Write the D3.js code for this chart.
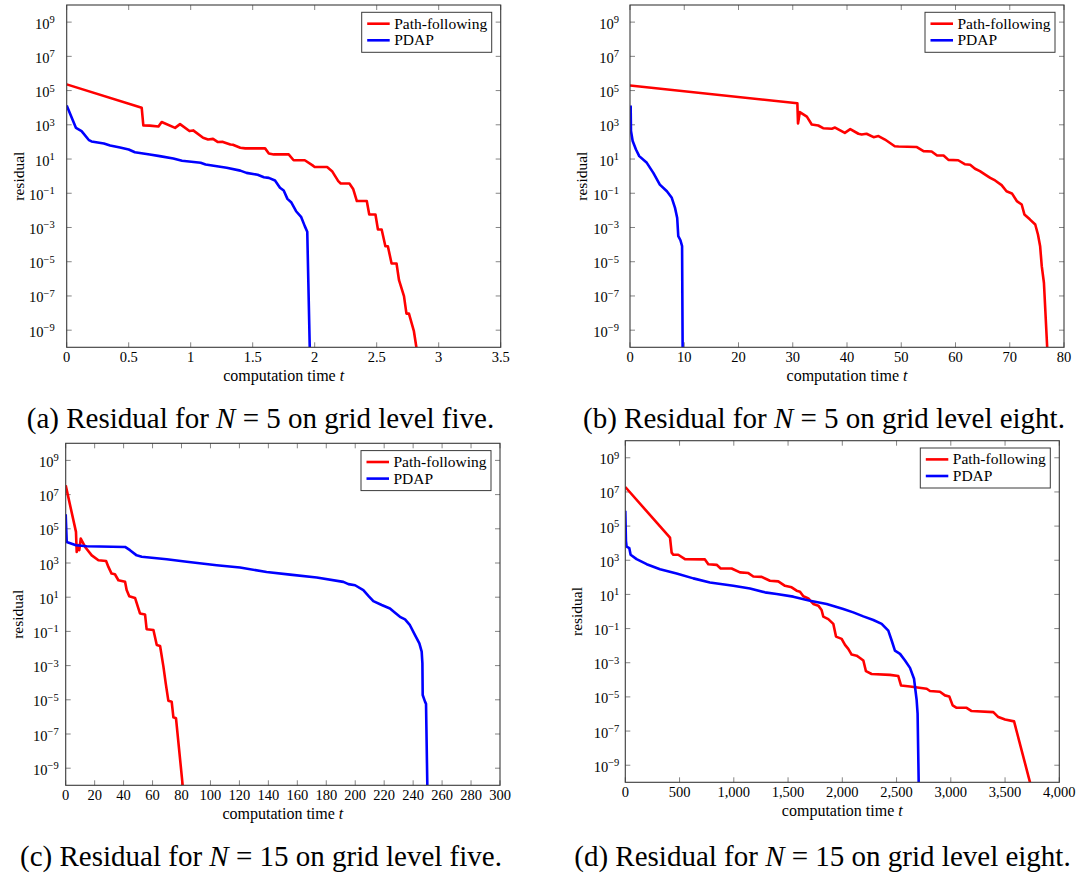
<!DOCTYPE html>
<html>
<head>
<meta charset="utf-8">
<script src="https://cdn.jsdelivr.net/npm/d3@7"></script>
<style>
  html, body { margin: 0; padding: 0; background: #fff; }
  svg { display: block; }
  text { font-family: "Liberation Serif", "Times New Roman", serif; fill: #000; }
</style>
</head>
<body>
<svg id="fig" width="1078" height="879"></svg>
<script>
// ---------- residual histories (computation time t, residual) ----------

// (a) N = 5, grid level five
const timeA_PF = [0, 0.605, 0.618, 0.67, 0.74, 0.766, 0.874, 0.914, 0.99, 1.02, 1.10, 1.14, 1.18, 1.22, 1.26, 1.32, 1.34, 1.40, 1.44, 1.60, 1.63, 1.67, 1.79, 1.83, 1.92, 1.98, 2.00, 2.10, 2.14, 2.19, 2.21, 2.28, 2.31, 2.34, 2.42, 2.44, 2.49, 2.51, 2.54, 2.57, 2.59, 2.62, 2.66, 2.68, 2.72, 2.74, 2.76, 2.80, 2.82];
const resA_PF  = [2.3e5, 9.8e3, 9.1e2, 9.0e2, 7.9e2, 1.45e3, 6.6e2, 1.1e3, 4.3e2, 4.7e2, 1.74e2, 1.38e2, 1.5e2, 98, 100, 71, 68, 46, 42, 42, 21, 18.6, 18.6, 8.5, 8.5, 4.4, 3.4, 3.4, 1.95, 0.51, 0.37, 0.37, 0.18, 0.035, 0.035, 5.8e-3, 5.8e-3, 7.6e-4, 7.6e-4, 8.1e-5, 8.1e-5, 7.9e-6, 7.9e-6, 8.3e-7, 9.8e-8, 9.3e-9, 9.3e-9, 8.7e-10, 1e-10];
const timeA_PDAP = [0, 0.075, 0.12, 0.18, 0.20, 0.30, 0.35, 0.43, 0.50, 0.55, 0.67, 0.75, 0.86, 0.93, 1.08, 1.12, 1.29, 1.40, 1.45, 1.54, 1.59, 1.63, 1.68, 1.72, 1.75, 1.78, 1.81, 1.85, 1.89, 1.92, 1.94, 1.96];
const resA_PDAP  = [1.35e4, 6.6e2, 4.3e2, 126, 107, 81, 62, 47, 36, 25, 18.6, 14.8, 10.7, 7.9, 6.0, 4.8, 3.1, 2.1, 1.55, 1.2, 0.87, 0.79, 0.56, 0.21, 0.145, 0.047, 0.030, 8.9e-3, 4.2e-3, 1.2e-3, 5.6e-4, 1e-10];

// (b) N = 5, grid level eight
const timeB_PF = [0, 30.85, 30.97, 31.3, 32.6, 33.5, 34.7, 35.6, 37.2, 37.8, 39.6, 40.6, 42.1, 42.7, 43.6, 44.9, 45.8, 47.0, 48.8, 49.5, 52.8, 54.1, 55.6, 56.6, 57.8, 58.7, 60.5, 61.7, 62.7, 63.6, 64.5, 65.4, 66.4, 67.3, 68.5, 69.4, 70.4, 71.3, 72.2, 72.7, 73.7, 74.7, 75.2, 75.6, 75.9, 76.3, 76.9];
const resB_PF  = [2.0e5, 1.8e4, 1.2e3, 5.5e3, 3.0e3, 1.05e3, 9.1e2, 6.3e2, 5.9e2, 6.9e2, 3.4e2, 5.6e2, 3.0e2, 2.7e2, 3.0e2, 1.9e2, 2.2e2, 1.38e2, 56, 54, 51, 29, 27.5, 16.2, 16.2, 8.9, 8.5, 5.0, 4.6, 2.7, 1.95, 1.26, 0.79, 0.56, 0.30, 0.13, 0.098, 0.035, 0.022, 5.8e-3, 3.0e-3, 1.5e-3, 3.9e-4, 8.1e-5, 5.5e-6, 5.9e-7, 1e-10];
const timeB_PDAP = [0.12, 0.18, 0.49, 1.1, 1.7, 3.1, 4.3, 5.5, 6.8, 7.7, 8.3, 8.7, 8.9, 9.3, 9.6, 9.7];
const resB_PDAP  = [1.35e4, 4.3e2, 112, 36, 14.8, 6.0, 1.55, 0.32, 0.13, 0.054, 0.014, 3.6e-3, 3.1e-4, 1.8e-4, 8.1e-5, 1e-10];

// (c) N = 15, grid level five
const timeC_PF = [0, 7.1, 7.6, 8.7, 9.4, 10.4, 13.4, 18.0, 22.6, 27.9, 29.5, 31.7, 34.0, 36.4, 41.0, 42.1, 43.9, 47.9, 51.3, 54.8, 55.9, 60.6, 62.9, 65.2, 67.5, 69.1, 70.9, 73.2, 74.4, 76.2, 80.8];
const resC_PF  = [3.5e7, 6.6e4, 4.5e3, 1.1e4, 5.6e3, 2.7e4, 8.7e3, 2.8e3, 1.45e3, 1.3e3, 5.9e2, 2.4e2, 2.2e2, 98, 79, 26, 11.5, 9.1, 1.12, 0.98, 0.135, 0.12, 0.016, 0.014, 8.7e-4, 9.1e-5, 8.9e-6, 7.8e-6, 9.5e-7, 8.3e-7, 1e-10];
const timeC_PDAP = [0, 0.7, 7.1, 14.5, 41.0, 44.4, 49.0, 52.5, 69.8, 83.6, 104.3, 120.4, 138.8, 155, 173.4, 191.8, 195.3, 199.9, 205.6, 209.1, 212.5, 218.3, 224, 227.5, 230.9, 234.4, 237.8, 241.3, 244.3, 245.9, 246.4, 246.6, 248.2, 248.9, 249.8];
const resC_PDAP  = [7.1e5, 1.7e4, 1.1e4, 9.5e3, 8.7e3, 5.6e3, 2.8e3, 2.3e3, 1.66e3, 1.17e3, 7.4e2, 5.4e2, 3.0e2, 2.1e2, 1.41e2, 79, 58, 50, 26, 12, 5.9, 3.5, 2.2, 1.23, 0.71, 0.50, 0.23, 0.060, 0.020, 6.5e-3, 1.35e-3, 1.9e-5, 7.8e-6, 5.8e-6, 1e-10];

// (d) N = 15, grid level eight
const timeD_PF = [0, 412, 427, 442, 488, 550, 734, 765, 842, 879, 980, 1057, 1134, 1180, 1257, 1333, 1410, 1472, 1533, 1579, 1610, 1641, 1687, 1733, 1779, 1809, 1825, 1871, 1917, 1942, 1994, 2025, 2055, 2086, 2132, 2163, 2194, 2218, 2270, 2439, 2516, 2541, 2624, 2778, 2808, 2900, 2946, 2986, 3017, 3054, 3146, 3192, 3392, 3438, 3500, 3583, 3730];
const resD_PF  = [1.95e7, 2.1e4, 2.8e3, 2.1e3, 2.1e3, 1.17e3, 1.12e3, 5.9e2, 5.4e2, 3.3e2, 3.3e2, 1.95e2, 1.78e2, 1.12e2, 1.07e2, 63, 58, 32, 26, 16.6, 14.5, 7.8, 5.9, 2.75, 2.2, 1.23, 0.50, 0.36, 0.19, 0.034, 0.025, 0.011, 6.5e-3, 3.0e-3, 2.6e-3, 1.9e-3, 1.35e-3, 3.2e-4, 2.2e-4, 1.95e-4, 1.66e-4, 4.7e-5, 4.1e-5, 3.0e-5, 2.2e-5, 2.0e-5, 1.23e-5, 1.07e-5, 3.2e-6, 2.3e-6, 2.3e-6, 1.48e-6, 1.29e-6, 6.6e-7, 4.7e-7, 3.7e-7, 1e-10];
const timeD_PDAP = [0, 6, 12, 37, 49, 104, 197, 320, 473, 627, 780, 995, 1149, 1287, 1395, 1548, 1702, 1856, 2009, 2101, 2194, 2286, 2363, 2424, 2455, 2485, 2532, 2578, 2624, 2661, 2685, 2694, 2704];
const resD_PDAP  = [7.8e5, 1.38e4, 6.2e3, 5.1e3, 2.1e3, 1.17e3, 5.9e2, 3.0e2, 1.7e2, 87, 50, 32, 22, 13.2, 10.5, 7.4, 4.3, 2.75, 1.41, 0.89, 0.52, 0.32, 0.19, 0.076, 0.020, 5.1e-3, 3.3e-3, 1.35e-3, 5.0e-4, 1.15e-4, 6.8e-6, 1.05e-6, 1e-10];

// ---------- axes ----------
const xTicksA = [0, 0.5, 1, 1.5, 2, 2.5, 3, 3.5];
const xTicksB = [0, 10, 20, 30, 40, 50, 60, 70, 80];
const xTicksC = [0, 20, 40, 60, 80, 100, 120, 140, 160, 180, 200, 220, 240, 260, 280, 300];
const xTicksD = [0, 500, 1000, 1500, 2000, 2500, 3000, 3500, 4000];
const yTickExponents = [-9, -7, -5, -3, -1, 1, 3, 5, 7, 9];
const yDomain = [1e-10, 1e10];

const seriesNames = ["Path-following", "PDAP"];
const seriesColors = ["#ff0000", "#0000ff"];

const captionLabels = ["(a)", "(b)", "(c)", "(d)"];
const captionN = ["5", "5", "15", "15"];
const captionLevel = ["five", "eight", "five", "eight"];

// ---------- layout of the four panels ----------
const panels = [
  { box: [66.7, 5, 500.7, 347.3], xTicks: xTicksA, fmt: d => String(d),
    runs: [[timeA_PF, resA_PF], [timeA_PDAP, resA_PDAP]], capX: 260.5, capY: 428, yLabX: 18.5, yTickGap: 12 },
  { box: [630, 5, 1064, 347.3], xTicks: xTicksB, fmt: d => String(d),
    runs: [[timeB_PF, resB_PF], [timeB_PDAP, resB_PDAP]], capX: 824, capY: 428, yLabX: 582, yTickGap: 11 },
  { box: [65.7, 443.3, 500, 785.3], xTicks: xTicksC, fmt: d => String(d),
    runs: [[timeC_PF, resC_PF], [timeC_PDAP, resC_PDAP]], capX: 261, capY: 866, yLabX: 17.5, yTickGap: 7 },
  { box: [625.3, 440.7, 1059.3, 782.3], xTicks: xTicksD, fmt: d3.format(","),
    runs: [[timeD_PF, resD_PF], [timeD_PDAP, resD_PDAP]], capX: 822.5, capY: 866, yLabX: 577, yTickGap: 6 }
];

const svg = d3.select("#fig");
const TICK = 5;
const LINE_W = 2.6;

panels.forEach((p, i) => {
  const [x0, y0, x1, y1] = p.box;
  const xs = d3.scaleLinear().domain(d3.extent(p.xTicks)).range([x0, x1]);
  const ys = d3.scaleLog().domain(yDomain).range([y1, y0]);
  const g = svg.append("g");

  const clipId = "clip" + i;
  svg.append("clipPath").attr("id", clipId)
    .append("rect").attr("x", x0).attr("y", y0).attr("width", x1 - x0).attr("height", y1 - y0);

  // tick marks (inside, mirrored on all four sides)
  const tg = g.append("g").attr("stroke", "#777").attr("stroke-width", 0.9);
  p.xTicks.forEach(v => {
    const x = xs(v);
    tg.append("line").attr("x1", x).attr("x2", x).attr("y1", y1).attr("y2", y1 - TICK);
    tg.append("line").attr("x1", x).attr("x2", x).attr("y1", y0).attr("y2", y0 + TICK);
  });
  yTickExponents.forEach(e => {
    const y = ys(Math.pow(10, e));
    tg.append("line").attr("x1", x0).attr("x2", x0 + TICK).attr("y1", y).attr("y2", y);
    tg.append("line").attr("x1", x1).attr("x2", x1 - TICK).attr("y1", y).attr("y2", y);
  });

  // x tick labels
  g.append("g").selectAll("text").data(p.xTicks).join("text")
    .attr("x", d => xs(d)).attr("y", y1 + 14.5)
    .attr("text-anchor", "middle").attr("font-size", 14.5)
    .text(p.fmt);

  // y tick labels: 10^k
  yTickExponents.forEach(e => {
    const t = g.append("text")
      .attr("x", x0 - p.yTickGap).attr("y", ys(Math.pow(10, e)) + 6.5)
      .attr("text-anchor", "end").attr("font-size", 14.5);
    t.append("tspan").text("10");
    t.append("tspan").attr("dy", -5.5).attr("font-size", 10.5)
      .text(e < 0 ? "\u2212" + Math.abs(e) : String(e));
  });

  // axis titles
  const xl = g.append("text").attr("x", (x0 + x1) / 2).attr("y", y1 + 34)
    .attr("text-anchor", "middle").attr("font-size", 16);
  xl.append("tspan").text("computation time ");
  xl.append("tspan").attr("font-style", "italic").text("t");

  g.append("text")
    .attr("transform", `translate(${p.yLabX},${(y0 + y1) / 2}) rotate(-90)`)
    .attr("text-anchor", "middle").attr("dy", "0.35em").attr("font-size", 15.5)
    .text("residual");

  // curves
  const line = d3.line().x(d => xs(d[0])).y(d => ys(d[1]));
  const cg = g.append("g").attr("clip-path", `url(#${clipId})`);
  p.runs.forEach((run, k) => {
    const pts = run[0].map((t, j) => [t, run[1][j]]);
    cg.append("path").datum(pts)
      .attr("d", line)
      .attr("fill", "none")
      .attr("stroke", seriesColors[k])
      .attr("stroke-width", LINE_W)
      .attr("stroke-linejoin", "round");
  });

  // frame
  g.append("rect").attr("x", x0).attr("y", y0).attr("width", x1 - x0).attr("height", y1 - y0)
    .attr("fill", "none").attr("stroke", "#3a3a3a").attr("stroke-width", 1.1);

  // legend
  const lw = 130, lh = 40;
  const lx = x1 - 9 - lw, ly = y0 + 7.3;
  const lg = g.append("g");
  lg.append("rect").attr("x", lx).attr("y", ly).attr("width", lw).attr("height", lh)
    .attr("fill", "#fff").attr("stroke", "#3a3a3a").attr("stroke-width", 1);
  seriesNames.forEach((name, k) => {
    const cy = ly + 11.4 + k * 16.6;
    lg.append("line").attr("x1", lx + 5.5).attr("x2", lx + 28)
      .attr("y1", cy).attr("y2", cy)
      .attr("stroke", seriesColors[k]).attr("stroke-width", LINE_W);
    lg.append("text").attr("x", lx + 32.5).attr("y", cy + 5)
      .attr("font-size", 15.5).text(name);
  });

  // caption
  const cap = svg.append("text").attr("x", p.capX).attr("y", p.capY)
    .attr("text-anchor", "middle").attr("font-size", 29);
  cap.append("tspan").text(captionLabels[i] + " Residual for ");
  cap.append("tspan").attr("font-style", "italic").text("N");
  cap.append("tspan").text(" = " + captionN[i] + " on grid level " + captionLevel[i] + ".");
});
</script>
</body>
</html>
